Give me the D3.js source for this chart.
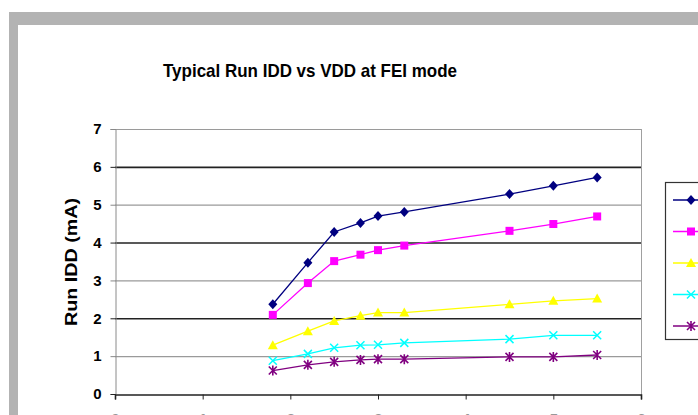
<!DOCTYPE html>
<html><head><meta charset="utf-8">
<script src="https://cdn.jsdelivr.net/npm/d3@7"></script>
<style>html,body{margin:0;padding:0;background:#fff;overflow:hidden}</style>
</head><body>
<svg id="c" width="698" height="415"></svg>
<script>
const vdd = [1.8, 2.2, 2.5, 2.8, 3.0, 3.3, 4.5, 5.0, 5.5];
const seriesNames = ["10 MHz", "8 MHz", "4 MHz", "2 MHz", "1 MHz"];
const s1 = [2.37, 3.47, 4.28, 4.52, 4.70, 4.81, 5.28, 5.50, 5.72];
const s2 = [2.09, 2.93, 3.51, 3.68, 3.80, 3.92, 4.31, 4.49, 4.69];
const s3 = [1.29, 1.66, 1.93, 2.07, 2.15, 2.15, 2.37, 2.46, 2.52];
const s4 = [0.88, 1.06, 1.22, 1.29, 1.30, 1.35, 1.45, 1.55, 1.55];
const s5 = [0.62, 0.77, 0.85, 0.90, 0.92, 0.92, 0.98, 0.98, 1.03];
const yTicks = [0, 1, 2, 3, 4, 5, 6, 7];
const xTicks = [0, 1, 2, 3, 4, 5, 6];

const colors = ["#000080", "#ff00ff", "#ffff00", "#00ffff", "#800080"];
const markers = ["diamond", "square", "triangle", "x", "star"];
const allSeries = [s1, s2, s3, s4, s5];

const svg = d3.select("#c");
// backdrop
svg.append("rect").attr("x", 9).attr("y", 12).attr("width", 698).attr("height", 415).attr("fill", "#b3b3b3");
svg.append("rect").attr("x", 18).attr("y", 25).attr("width", 698).attr("height", 415).attr("fill", "#ffffff");

const L = 115, R = 641, T = 129, B = 394;
const x = d3.scaleLinear().domain([0, 6]).range([L, R]);
const y = d3.scaleLinear().domain([0, 7]).range([B, T]);

// gridlines
svg.append("g").selectAll("line").data(yTicks.filter(d => d > 0)).join("line")
  .attr("x1", L).attr("x2", R).attr("y1", d => y(d) + 0.5).attr("y2", d => y(d) + 0.5)
  .attr("stroke", d => d % 2 === 0 ? "#222" : "#9a9a9a").attr("stroke-width", d => d % 2 === 0 ? 1.6 : 1.2);

// plot border right
svg.append("line").attr("x1", R + 0.5).attr("x2", R + 0.5).attr("y1", T).attr("y2", B).attr("stroke", "#a0a0a0");

// y axis
const yAxis = d3.axisLeft(y).tickValues(yTicks).tickSize(5).tickPadding(9).tickFormat(d3.format("d"));
const gy = svg.append("g").attr("transform", `translate(${L + 0.5},0)`).call(yAxis);
gy.select(".domain").attr("stroke", "#8a8a8a");
gy.selectAll(".tick line").attr("stroke", d => d % 2 === 0 ? "#222" : "#888");
gy.selectAll(".tick text").attr("font-family", "Liberation Sans, Arial, sans-serif")
  .attr("font-weight", "bold").attr("font-size", 15).attr("fill", "#000");

// x axis
const xAxis = d3.axisBottom(x).tickValues(xTicks).tickSize(5).tickPadding(14).tickFormat(d3.format("d"));
const gx = svg.append("g").attr("transform", `translate(0,${B + 0.5})`).call(xAxis);
gx.select(".domain").attr("stroke", "#222").attr("stroke-width", 1.6);
gx.selectAll(".tick line").attr("stroke", "#222");
gx.selectAll(".tick text").attr("font-family", "Liberation Sans, Arial, sans-serif")
  .attr("font-weight", "bold").attr("font-size", 15).attr("fill", "#999");

// title
svg.append("text").attr("x", 310).attr("y", 77).attr("text-anchor", "middle")
  .attr("font-family", "Liberation Sans, Arial, sans-serif").attr("font-weight", "bold")
  .attr("font-size", 19).attr("textLength", 294).attr("lengthAdjust", "spacingAndGlyphs")
  .text("Typical Run IDD vs VDD at FEI mode");

// y label
svg.append("text").attr("transform", "translate(77,262) rotate(-90)").attr("text-anchor", "middle")
  .attr("font-family", "Liberation Sans, Arial, sans-serif").attr("font-weight", "bold")
  .attr("font-size", 16).attr("textLength", 128).attr("lengthAdjust", "spacingAndGlyphs")
  .text("Run IDD (mA)");

function drawMarker(g, type, color, cx, cy) {
  if (type === "diamond") {
    g.append("path").attr("d", `M${cx},${cy - 5}L${cx + 4.5},${cy}L${cx},${cy + 5}L${cx - 4.5},${cy}Z`).attr("fill", color);
  } else if (type === "square") {
    g.append("rect").attr("x", cx - 4).attr("y", cy - 4).attr("width", 8).attr("height", 8).attr("fill", color);
  } else if (type === "triangle") {
    g.append("path").attr("d", `M${cx},${cy - 5}L${cx + 5},${cy + 4}L${cx - 5},${cy + 4}Z`).attr("fill", color);
  } else if (type === "x") {
    g.append("path").attr("d", `M${cx - 4},${cy - 4}L${cx + 4},${cy + 4}M${cx + 4},${cy - 4}L${cx - 4},${cy + 4}`)
      .attr("stroke", color).attr("stroke-width", 1.5);
  } else if (type === "star") {
    g.append("path").attr("d", `M${cx - 4},${cy - 4}L${cx + 4},${cy + 4}M${cx + 4},${cy - 4}L${cx - 4},${cy + 4}M${cx},${cy - 5}L${cx},${cy + 5}`)
      .attr("stroke", color).attr("stroke-width", 1.6);
  }
}

const line = d3.line().x((d, i) => x(vdd[i])).y(d => y(d));
allSeries.forEach((s, k) => {
  const g = svg.append("g");
  g.append("path").attr("d", line(s)).attr("fill", "none").attr("stroke", colors[k]).attr("stroke-width", 1.3);
  s.forEach((v, i) => drawMarker(g, markers[k], colors[k], x(vdd[i]), y(v)));
});

// legend
const lg = svg.append("g");
lg.append("rect").attr("x", 665.5).attr("y", 182.5).attr("width", 80).attr("height", 157)
  .attr("fill", "#fff").attr("stroke", "#333").attr("stroke-width", 1.2);
const legendY = d3.scalePoint().domain(seriesNames).range([200, 326]);
seriesNames.forEach((n, k) => {
  const ly = legendY(n);
  lg.append("line").attr("x1", 673).attr("x2", 710).attr("y1", ly).attr("y2", ly).attr("stroke", colors[k]).attr("stroke-width", 1.3);
  drawMarker(lg, markers[k], colors[k], 691, ly);
  lg.append("text").attr("x", 716).attr("y", ly + 4).attr("font-family", "Liberation Sans, Arial, sans-serif")
    .attr("font-size", 12).attr("font-weight", "bold").text(n);
});
</script>
</body></html>
